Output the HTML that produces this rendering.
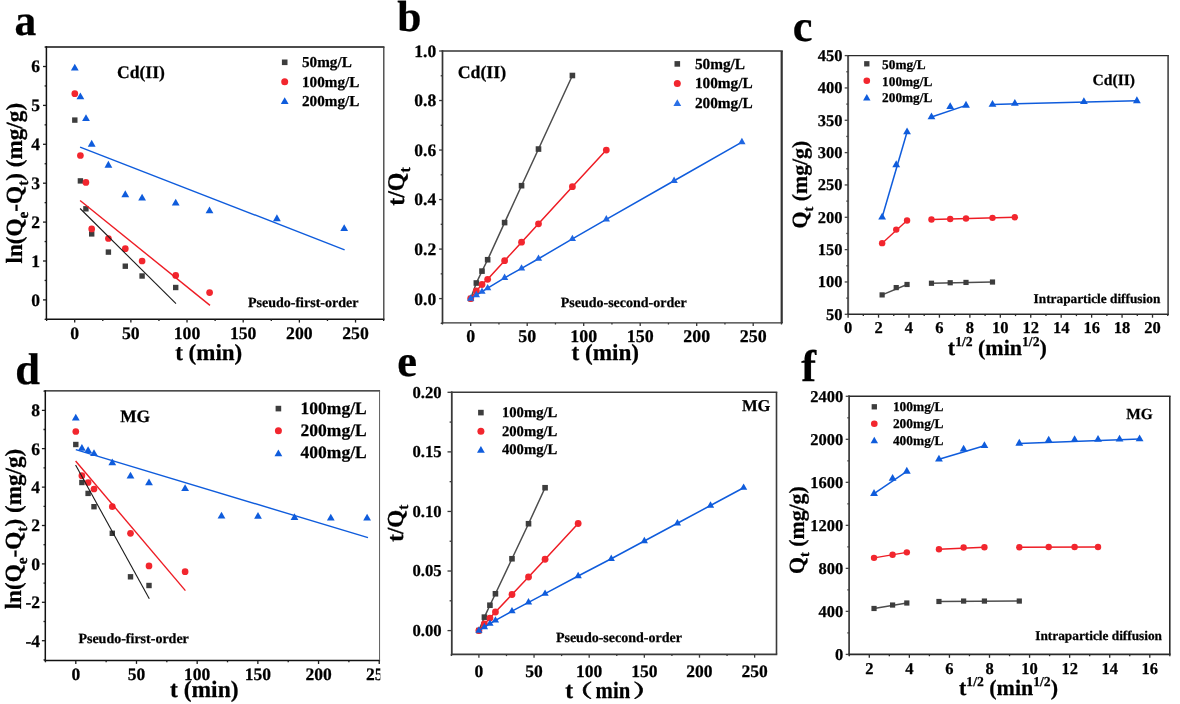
<!DOCTYPE html>
<html lang="en">
<head>
<meta charset="utf-8">
<title>Adsorption kinetics: Cd(II) and MG</title>
<style>
html,body{margin:0;padding:0;background:#fff;}
body{width:1180px;height:704px;overflow:hidden;font-family:"Liberation Serif","Noto Serif CJK SC",serif;}
svg{display:block;}
svg text{white-space:pre;}
</style>
</head>
<body>
<svg width="1180" height="704" viewBox="0 0 1180 704" text-rendering="geometricPrecision">
<rect x="0" y="0" width="1180" height="704" fill="#ffffff"/>
<g id="pa">
<rect x="72.1" y="117.4" width="5.4" height="5.4" fill="#3d3d3d"/>
<rect x="77.7" y="178.2" width="5.4" height="5.4" fill="#3d3d3d"/>
<rect x="83.2" y="206.1" width="5.4" height="5.4" fill="#3d3d3d"/>
<rect x="89" y="231.2" width="5.4" height="5.4" fill="#3d3d3d"/>
<rect x="105.7" y="249.4" width="5.4" height="5.4" fill="#3d3d3d"/>
<rect x="122.6" y="263.5" width="5.4" height="5.4" fill="#3d3d3d"/>
<rect x="139.4" y="273.3" width="5.4" height="5.4" fill="#3d3d3d"/>
<rect x="173" y="284.8" width="5.4" height="5.4" fill="#3d3d3d"/>
<circle cx="74.8" cy="93.7" r="3.35" fill="#f2262e"/>
<circle cx="80.4" cy="155.5" r="3.35" fill="#f2262e"/>
<circle cx="85.9" cy="182.4" r="3.35" fill="#f2262e"/>
<circle cx="91.7" cy="228.9" r="3.35" fill="#f2262e"/>
<circle cx="108.4" cy="238.5" r="3.35" fill="#f2262e"/>
<circle cx="125.3" cy="248.7" r="3.35" fill="#f2262e"/>
<circle cx="142.1" cy="261" r="3.35" fill="#f2262e"/>
<circle cx="175.7" cy="275.4" r="3.35" fill="#f2262e"/>
<circle cx="209.6" cy="292.6" r="3.35" fill="#f2262e"/>
<polygon points="74.8,63.67 78.7,70.47 70.9,70.47" fill="#0f5cdc"/>
<polygon points="80.4,92.47 84.3,99.27 76.5,99.27" fill="#0f5cdc"/>
<polygon points="86,114.27 89.9,121.07 82.1,121.07" fill="#0f5cdc"/>
<polygon points="91.7,139.87 95.6,146.67 87.8,146.67" fill="#0f5cdc"/>
<polygon points="108.4,160.87 112.3,167.67 104.5,167.67" fill="#0f5cdc"/>
<polygon points="125.3,190.37 129.2,197.17 121.4,197.17" fill="#0f5cdc"/>
<polygon points="142.1,193.77 146,200.57 138.2,200.57" fill="#0f5cdc"/>
<polygon points="175.7,198.67 179.6,205.47 171.8,205.47" fill="#0f5cdc"/>
<polygon points="209.5,206.47 213.4,213.27 205.6,213.27" fill="#0f5cdc"/>
<polygon points="276.9,214.37 280.8,221.17 273,221.17" fill="#0f5cdc"/>
<polygon points="344.2,224.17 348.1,230.97 340.3,230.97" fill="#0f5cdc"/>
<polyline points="80.1,208.5 176,303.7" fill="none" stroke="#1a1a1a" stroke-width="1.1" stroke-linecap="butt" stroke-linejoin="round"/>
<polyline points="80.1,200.5 210,305.4" fill="none" stroke="#ee1c24" stroke-width="1.4" stroke-linecap="butt" stroke-linejoin="round"/>
<polyline points="80.1,147.1 344.6,249.8" fill="none" stroke="#0f5cdc" stroke-width="1.4" stroke-linecap="butt" stroke-linejoin="round"/>
<line x1="46.4" y1="46.3" x2="46.4" y2="319.95" stroke="#111" stroke-width="1.5"/>
<line x1="45.65" y1="319.2" x2="384.45" y2="319.2" stroke="#111" stroke-width="1.5"/>
<line x1="45.65" y1="47" x2="384.45" y2="47" stroke="#111" stroke-width="1.4"/>
<line x1="383.8" y1="47" x2="383.8" y2="319.2" stroke="#3a3a3a" stroke-width="1.3"/>
<line x1="46.62" y1="319.2" x2="46.62" y2="321" stroke="#1c1c1c" stroke-width="1.3"/>
<line x1="102.78" y1="319.2" x2="102.78" y2="321" stroke="#1c1c1c" stroke-width="1.3"/>
<line x1="158.95" y1="319.2" x2="158.95" y2="321" stroke="#1c1c1c" stroke-width="1.3"/>
<line x1="215.12" y1="319.2" x2="215.12" y2="321" stroke="#1c1c1c" stroke-width="1.3"/>
<line x1="271.28" y1="319.2" x2="271.28" y2="321" stroke="#1c1c1c" stroke-width="1.3"/>
<line x1="327.45" y1="319.2" x2="327.45" y2="321" stroke="#1c1c1c" stroke-width="1.3"/>
<line x1="383.62" y1="319.2" x2="383.62" y2="321" stroke="#1c1c1c" stroke-width="1.3"/>
<line x1="74.7" y1="319.2" x2="74.7" y2="322.6" stroke="#1c1c1c" stroke-width="1.3"/>
<text x="74.7" y="339.3" font-size="17.7" text-anchor="middle" fill="#000" font-family="'Liberation Serif',serif" font-weight="bold" stroke="#000" stroke-width="0.25" stroke-linejoin="round" >0</text>
<line x1="130.87" y1="319.2" x2="130.87" y2="322.6" stroke="#1c1c1c" stroke-width="1.3"/>
<text x="130.87" y="339.3" font-size="17.7" text-anchor="middle" fill="#000" font-family="'Liberation Serif',serif" font-weight="bold" stroke="#000" stroke-width="0.25" stroke-linejoin="round" >50</text>
<line x1="187.03" y1="319.2" x2="187.03" y2="322.6" stroke="#1c1c1c" stroke-width="1.3"/>
<text x="187.03" y="339.3" font-size="17.7" text-anchor="middle" fill="#000" font-family="'Liberation Serif',serif" font-weight="bold" stroke="#000" stroke-width="0.25" stroke-linejoin="round" >100</text>
<line x1="243.2" y1="319.2" x2="243.2" y2="322.6" stroke="#1c1c1c" stroke-width="1.3"/>
<text x="243.2" y="339.3" font-size="17.7" text-anchor="middle" fill="#000" font-family="'Liberation Serif',serif" font-weight="bold" stroke="#000" stroke-width="0.25" stroke-linejoin="round" >150</text>
<line x1="299.37" y1="319.2" x2="299.37" y2="322.6" stroke="#1c1c1c" stroke-width="1.3"/>
<text x="299.37" y="339.3" font-size="17.7" text-anchor="middle" fill="#000" font-family="'Liberation Serif',serif" font-weight="bold" stroke="#000" stroke-width="0.25" stroke-linejoin="round" >200</text>
<line x1="355.53" y1="319.2" x2="355.53" y2="322.6" stroke="#1c1c1c" stroke-width="1.3"/>
<text x="355.53" y="339.3" font-size="17.7" text-anchor="middle" fill="#000" font-family="'Liberation Serif',serif" font-weight="bold" stroke="#000" stroke-width="0.25" stroke-linejoin="round" >250</text>
<line x1="44.6" y1="319.35" x2="46.4" y2="319.35" stroke="#1c1c1c" stroke-width="1.3"/>
<line x1="44.6" y1="280.45" x2="46.4" y2="280.45" stroke="#1c1c1c" stroke-width="1.3"/>
<line x1="44.6" y1="241.55" x2="46.4" y2="241.55" stroke="#1c1c1c" stroke-width="1.3"/>
<line x1="44.6" y1="202.65" x2="46.4" y2="202.65" stroke="#1c1c1c" stroke-width="1.3"/>
<line x1="44.6" y1="163.75" x2="46.4" y2="163.75" stroke="#1c1c1c" stroke-width="1.3"/>
<line x1="44.6" y1="124.85" x2="46.4" y2="124.85" stroke="#1c1c1c" stroke-width="1.3"/>
<line x1="44.6" y1="85.95" x2="46.4" y2="85.95" stroke="#1c1c1c" stroke-width="1.3"/>
<line x1="44.6" y1="47.05" x2="46.4" y2="47.05" stroke="#1c1c1c" stroke-width="1.3"/>
<line x1="43" y1="299.9" x2="46.4" y2="299.9" stroke="#1c1c1c" stroke-width="1.3"/>
<text x="40" y="305.8" font-size="17.5" text-anchor="end" fill="#000" font-family="'Liberation Serif',serif" font-weight="bold" stroke="#000" stroke-width="0.25" stroke-linejoin="round" >0</text>
<line x1="43" y1="261" x2="46.4" y2="261" stroke="#1c1c1c" stroke-width="1.3"/>
<text x="40" y="266.9" font-size="17.5" text-anchor="end" fill="#000" font-family="'Liberation Serif',serif" font-weight="bold" stroke="#000" stroke-width="0.25" stroke-linejoin="round" >1</text>
<line x1="43" y1="222.1" x2="46.4" y2="222.1" stroke="#1c1c1c" stroke-width="1.3"/>
<text x="40" y="228" font-size="17.5" text-anchor="end" fill="#000" font-family="'Liberation Serif',serif" font-weight="bold" stroke="#000" stroke-width="0.25" stroke-linejoin="round" >2</text>
<line x1="43" y1="183.2" x2="46.4" y2="183.2" stroke="#1c1c1c" stroke-width="1.3"/>
<text x="40" y="189.1" font-size="17.5" text-anchor="end" fill="#000" font-family="'Liberation Serif',serif" font-weight="bold" stroke="#000" stroke-width="0.25" stroke-linejoin="round" >3</text>
<line x1="43" y1="144.3" x2="46.4" y2="144.3" stroke="#1c1c1c" stroke-width="1.3"/>
<text x="40" y="150.2" font-size="17.5" text-anchor="end" fill="#000" font-family="'Liberation Serif',serif" font-weight="bold" stroke="#000" stroke-width="0.25" stroke-linejoin="round" >4</text>
<line x1="43" y1="105.4" x2="46.4" y2="105.4" stroke="#1c1c1c" stroke-width="1.3"/>
<text x="40" y="111.3" font-size="17.5" text-anchor="end" fill="#000" font-family="'Liberation Serif',serif" font-weight="bold" stroke="#000" stroke-width="0.25" stroke-linejoin="round" >5</text>
<line x1="43" y1="66.5" x2="46.4" y2="66.5" stroke="#1c1c1c" stroke-width="1.3"/>
<text x="40" y="72.4" font-size="17.5" text-anchor="end" fill="#000" font-family="'Liberation Serif',serif" font-weight="bold" stroke="#000" stroke-width="0.25" stroke-linejoin="round" >6</text>
<text x="117" y="78" font-size="17.6" text-anchor="start" fill="#000" font-family="'Liberation Serif',serif" font-weight="bold" stroke="#000" stroke-width="0.25" stroke-linejoin="round" >Cd(II)</text>
<text x="248" y="306.6" font-size="14" text-anchor="start" fill="#000" font-family="'Liberation Serif',serif" font-weight="bold" stroke="#000" stroke-width="0.25" stroke-linejoin="round" >Pseudo-first-order</text>
<rect x="281.9" y="59.5" width="5.6" height="5.6" fill="#3d3d3d"/>
<circle cx="284.7" cy="81.8" r="3.5" fill="#f2262e"/>
<polygon points="284.7,97.2 288.6,104 280.8,104" fill="#0f5cdc"/>
<text x="302" y="67.3" font-size="15.2" text-anchor="start" fill="#000" font-family="'Liberation Serif',serif" font-weight="bold" stroke="#000" stroke-width="0.25" stroke-linejoin="round" >50mg/L</text>
<text x="302" y="87" font-size="15.2" text-anchor="start" fill="#000" font-family="'Liberation Serif',serif" font-weight="bold" stroke="#000" stroke-width="0.25" stroke-linejoin="round" >100mg/L</text>
<text x="302" y="106" font-size="15.2" text-anchor="start" fill="#000" font-family="'Liberation Serif',serif" font-weight="bold" stroke="#000" stroke-width="0.25" stroke-linejoin="round" >200mg/L</text>
<text transform="translate(22.2 183.2) rotate(-90)" font-size="23.2" text-anchor="middle" fill="#000" font-family="'Liberation Serif',serif" font-weight="bold" stroke="#000" stroke-width="0.25" stroke-linejoin="round">ln(Q<tspan font-size="15.31" dy="5.8">e</tspan><tspan dy="-5.8">&#8203;</tspan>-Q<tspan font-size="15.31" dy="5.8">t</tspan><tspan dy="-5.8">&#8203;</tspan>) (mg/g)</text>
<text x="175.2" y="359.6" font-size="23" text-anchor="start" fill="#000" font-family="'Liberation Serif',serif" font-weight="bold" stroke="#000" stroke-width="0.25" stroke-linejoin="round" >t (min)</text>
<text x="14.4" y="35.2" font-size="43.5" text-anchor="start" fill="#000" font-family="'Liberation Serif',serif" font-weight="bold" stroke="#000" stroke-width="0.25" stroke-linejoin="round" >a</text>
</g>
<g id="pb">
<polyline points="470.7,298.6 476.35,283 482,271.12 487.65,259.73 504.6,222.59 521.55,185.69 538.5,149.05 572.4,75.51" fill="none" stroke="#4d4d4d" stroke-width="1.5" stroke-linecap="butt" stroke-linejoin="round"/>
<rect x="467.9" y="295.8" width="5.6" height="5.6" fill="#3d3d3d"/>
<rect x="473.55" y="280.2" width="5.6" height="5.6" fill="#3d3d3d"/>
<rect x="479.2" y="268.32" width="5.6" height="5.6" fill="#3d3d3d"/>
<rect x="484.85" y="256.93" width="5.6" height="5.6" fill="#3d3d3d"/>
<rect x="501.8" y="219.79" width="5.6" height="5.6" fill="#3d3d3d"/>
<rect x="518.75" y="182.89" width="5.6" height="5.6" fill="#3d3d3d"/>
<rect x="535.7" y="146.25" width="5.6" height="5.6" fill="#3d3d3d"/>
<rect x="569.6" y="72.71" width="5.6" height="5.6" fill="#3d3d3d"/>
<polyline points="470.7,298.6 476.35,290.92 482,284.49 487.65,279.29 504.6,260.72 521.55,242.15 538.5,223.82 572.4,186.68 606.3,150.04" fill="none" stroke="#ee1c24" stroke-width="1.5" stroke-linecap="butt" stroke-linejoin="round"/>
<circle cx="470.7" cy="298.6" r="3.4" fill="#f2262e"/>
<circle cx="476.35" cy="290.92" r="3.4" fill="#f2262e"/>
<circle cx="482" cy="284.49" r="3.4" fill="#f2262e"/>
<circle cx="487.65" cy="279.29" r="3.4" fill="#f2262e"/>
<circle cx="504.6" cy="260.72" r="3.4" fill="#f2262e"/>
<circle cx="521.55" cy="242.15" r="3.4" fill="#f2262e"/>
<circle cx="538.5" cy="223.82" r="3.4" fill="#f2262e"/>
<circle cx="572.4" cy="186.68" r="3.4" fill="#f2262e"/>
<circle cx="606.3" cy="150.04" r="3.4" fill="#f2262e"/>
<polyline points="470.7,298.6 476.35,295.13 482,291.67 487.65,288.2 504.6,277.8 521.55,268.39 538.5,258.74 572.4,238.93 606.3,219.37 674.1,180.74 741.9,142.12" fill="none" stroke="#0f5cdc" stroke-width="1.5" stroke-linecap="butt" stroke-linejoin="round"/>
<polygon points="470.7,294.33 474.35,300.73 467.05,300.73" fill="#1f66e2"/>
<polygon points="476.35,290.87 480,297.27 472.7,297.27" fill="#1f66e2"/>
<polygon points="482,287.4 485.65,293.8 478.35,293.8" fill="#1f66e2"/>
<polygon points="487.65,283.93 491.3,290.33 484,290.33" fill="#1f66e2"/>
<polygon points="504.6,273.53 508.25,279.93 500.95,279.93" fill="#1f66e2"/>
<polygon points="521.55,264.13 525.2,270.53 517.9,270.53" fill="#1f66e2"/>
<polygon points="538.5,254.47 542.15,260.87 534.85,260.87" fill="#1f66e2"/>
<polygon points="572.4,234.66 576.05,241.06 568.75,241.06" fill="#1f66e2"/>
<polygon points="606.3,215.1 609.95,221.5 602.65,221.5" fill="#1f66e2"/>
<polygon points="674.1,176.48 677.75,182.88 670.45,182.88" fill="#1f66e2"/>
<polygon points="741.9,137.85 745.55,144.25 738.25,144.25" fill="#1f66e2"/>
<line x1="442.5" y1="50.25" x2="442.5" y2="323.6" stroke="#333" stroke-width="1.7"/>
<line x1="441.65" y1="322.9" x2="782.8" y2="322.9" stroke="#333" stroke-width="1.4"/>
<line x1="441.65" y1="51" x2="782.8" y2="51" stroke="#333" stroke-width="1.5"/>
<line x1="781.7" y1="51" x2="781.7" y2="322.9" stroke="#333" stroke-width="2.2"/>
<line x1="442.45" y1="322.9" x2="442.45" y2="324.5" stroke="#333" stroke-width="1.3"/>
<line x1="498.95" y1="322.9" x2="498.95" y2="324.5" stroke="#333" stroke-width="1.3"/>
<line x1="555.45" y1="322.9" x2="555.45" y2="324.5" stroke="#333" stroke-width="1.3"/>
<line x1="611.95" y1="322.9" x2="611.95" y2="324.5" stroke="#333" stroke-width="1.3"/>
<line x1="668.45" y1="322.9" x2="668.45" y2="324.5" stroke="#333" stroke-width="1.3"/>
<line x1="724.95" y1="322.9" x2="724.95" y2="324.5" stroke="#333" stroke-width="1.3"/>
<line x1="781.45" y1="322.9" x2="781.45" y2="324.5" stroke="#333" stroke-width="1.3"/>
<line x1="470.7" y1="322.9" x2="470.7" y2="325.9" stroke="#333" stroke-width="1.3"/>
<text x="470.7" y="342.4" font-size="17.9" text-anchor="middle" fill="#000" font-family="'Liberation Serif',serif" font-weight="bold" stroke="#000" stroke-width="0.25" stroke-linejoin="round" >0</text>
<line x1="527.2" y1="322.9" x2="527.2" y2="325.9" stroke="#333" stroke-width="1.3"/>
<text x="527.2" y="342.4" font-size="17.9" text-anchor="middle" fill="#000" font-family="'Liberation Serif',serif" font-weight="bold" stroke="#000" stroke-width="0.25" stroke-linejoin="round" >50</text>
<line x1="583.7" y1="322.9" x2="583.7" y2="325.9" stroke="#333" stroke-width="1.3"/>
<text x="583.7" y="342.4" font-size="17.9" text-anchor="middle" fill="#000" font-family="'Liberation Serif',serif" font-weight="bold" stroke="#000" stroke-width="0.25" stroke-linejoin="round" >100</text>
<line x1="640.2" y1="322.9" x2="640.2" y2="325.9" stroke="#333" stroke-width="1.3"/>
<text x="640.2" y="342.4" font-size="17.9" text-anchor="middle" fill="#000" font-family="'Liberation Serif',serif" font-weight="bold" stroke="#000" stroke-width="0.25" stroke-linejoin="round" >150</text>
<line x1="696.7" y1="322.9" x2="696.7" y2="325.9" stroke="#333" stroke-width="1.3"/>
<text x="696.7" y="342.4" font-size="17.9" text-anchor="middle" fill="#000" font-family="'Liberation Serif',serif" font-weight="bold" stroke="#000" stroke-width="0.25" stroke-linejoin="round" >200</text>
<line x1="753.2" y1="322.9" x2="753.2" y2="325.9" stroke="#333" stroke-width="1.3"/>
<text x="753.2" y="342.4" font-size="17.9" text-anchor="middle" fill="#000" font-family="'Liberation Serif',serif" font-weight="bold" stroke="#000" stroke-width="0.25" stroke-linejoin="round" >250</text>
<line x1="440.7" y1="323.36" x2="442.5" y2="323.36" stroke="#3a3a3a" stroke-width="1.3"/>
<line x1="440.7" y1="273.84" x2="442.5" y2="273.84" stroke="#3a3a3a" stroke-width="1.3"/>
<line x1="440.7" y1="224.32" x2="442.5" y2="224.32" stroke="#3a3a3a" stroke-width="1.3"/>
<line x1="440.7" y1="174.8" x2="442.5" y2="174.8" stroke="#3a3a3a" stroke-width="1.3"/>
<line x1="440.7" y1="125.28" x2="442.5" y2="125.28" stroke="#3a3a3a" stroke-width="1.3"/>
<line x1="440.7" y1="75.76" x2="442.5" y2="75.76" stroke="#3a3a3a" stroke-width="1.3"/>
<line x1="439.1" y1="298.6" x2="442.5" y2="298.6" stroke="#3a3a3a" stroke-width="1.3"/>
<text x="436.2" y="304.5" font-size="17.5" text-anchor="end" fill="#000" font-family="'Liberation Serif',serif" font-weight="bold" stroke="#000" stroke-width="0.25" stroke-linejoin="round" >0.0</text>
<line x1="439.1" y1="249.08" x2="442.5" y2="249.08" stroke="#3a3a3a" stroke-width="1.3"/>
<text x="436.2" y="254.98" font-size="17.5" text-anchor="end" fill="#000" font-family="'Liberation Serif',serif" font-weight="bold" stroke="#000" stroke-width="0.25" stroke-linejoin="round" >0.2</text>
<line x1="439.1" y1="199.56" x2="442.5" y2="199.56" stroke="#3a3a3a" stroke-width="1.3"/>
<text x="436.2" y="205.46" font-size="17.5" text-anchor="end" fill="#000" font-family="'Liberation Serif',serif" font-weight="bold" stroke="#000" stroke-width="0.25" stroke-linejoin="round" >0.4</text>
<line x1="439.1" y1="150.04" x2="442.5" y2="150.04" stroke="#3a3a3a" stroke-width="1.3"/>
<text x="436.2" y="155.94" font-size="17.5" text-anchor="end" fill="#000" font-family="'Liberation Serif',serif" font-weight="bold" stroke="#000" stroke-width="0.25" stroke-linejoin="round" >0.6</text>
<line x1="439.1" y1="100.52" x2="442.5" y2="100.52" stroke="#3a3a3a" stroke-width="1.3"/>
<text x="436.2" y="106.42" font-size="17.5" text-anchor="end" fill="#000" font-family="'Liberation Serif',serif" font-weight="bold" stroke="#000" stroke-width="0.25" stroke-linejoin="round" >0.8</text>
<line x1="439.1" y1="51" x2="442.5" y2="51" stroke="#3a3a3a" stroke-width="1.3"/>
<text x="436.2" y="56.9" font-size="17.5" text-anchor="end" fill="#000" font-family="'Liberation Serif',serif" font-weight="bold" stroke="#000" stroke-width="0.25" stroke-linejoin="round" >1.0</text>
<text x="457.7" y="77.6" font-size="17.8" text-anchor="start" fill="#000" font-family="'Liberation Serif',serif" font-weight="bold" stroke="#000" stroke-width="0.25" stroke-linejoin="round" >Cd(II)</text>
<text x="560.7" y="306.6" font-size="14" text-anchor="start" fill="#000" font-family="'Liberation Serif',serif" font-weight="bold" stroke="#000" stroke-width="0.25" stroke-linejoin="round" >Pseudo-second-order</text>
<rect x="674.5" y="61.1" width="5.6" height="5.6" fill="#3d3d3d"/>
<circle cx="677.3" cy="83.5" r="3.5" fill="#f2262e"/>
<polygon points="677.3,99.3 681.2,106.1 673.4,106.1" fill="#2a6fe6"/>
<text x="694.9" y="69" font-size="15.3" text-anchor="start" fill="#000" font-family="'Liberation Serif',serif" font-weight="bold" stroke="#000" stroke-width="0.25" stroke-linejoin="round" >50mg/L</text>
<text x="694.9" y="88.3" font-size="15.3" text-anchor="start" fill="#000" font-family="'Liberation Serif',serif" font-weight="bold" stroke="#000" stroke-width="0.25" stroke-linejoin="round" >100mg/L</text>
<text x="694.9" y="107.9" font-size="15.3" text-anchor="start" fill="#000" font-family="'Liberation Serif',serif" font-weight="bold" stroke="#000" stroke-width="0.25" stroke-linejoin="round" >200mg/L</text>
<text transform="translate(403.9 186.5) rotate(-90)" font-size="24" text-anchor="middle" fill="#000" font-family="'Liberation Serif',serif" font-weight="bold" stroke="#000" stroke-width="0.25" stroke-linejoin="round">t/Q<tspan font-size="15.84" dy="6">t</tspan><tspan dy="-6">&#8203;</tspan></text>
<text x="571.4" y="359.7" font-size="23.2" text-anchor="start" fill="#000" font-family="'Liberation Serif',serif" font-weight="bold" stroke="#000" stroke-width="0.25" stroke-linejoin="round" >t (min)</text>
<text x="397.2" y="31.2" font-size="43.5" text-anchor="start" fill="#000" font-family="'Liberation Serif',serif" font-weight="bold" stroke="#000" stroke-width="0.25" stroke-linejoin="round" >b</text>
</g>
<g id="pc">
<polyline points="882.13,294.9 907.05,284.48" fill="none" stroke="#4d4d4d" stroke-width="1.4" stroke-linecap="butt" stroke-linejoin="round"/>
<polyline points="931.47,283.26 992.5,282.03" fill="none" stroke="#4d4d4d" stroke-width="1.4" stroke-linecap="butt" stroke-linejoin="round"/>
<rect x="879.53" y="292.3" width="5.2" height="5.2" fill="#3d3d3d"/>
<rect x="893.63" y="284.99" width="5.2" height="5.2" fill="#3d3d3d"/>
<rect x="904.45" y="281.88" width="5.2" height="5.2" fill="#3d3d3d"/>
<rect x="928.87" y="280.66" width="5.2" height="5.2" fill="#3d3d3d"/>
<rect x="947.6" y="280.14" width="5.2" height="5.2" fill="#3d3d3d"/>
<rect x="963.4" y="279.82" width="5.2" height="5.2" fill="#3d3d3d"/>
<rect x="989.9" y="279.43" width="5.2" height="5.2" fill="#3d3d3d"/>
<polyline points="882.13,243.16 907.05,220.52" fill="none" stroke="#ee1c24" stroke-width="1.4" stroke-linecap="butt" stroke-linejoin="round"/>
<polyline points="931.47,219.55 1014.84,217.29" fill="none" stroke="#ee1c24" stroke-width="1.4" stroke-linecap="butt" stroke-linejoin="round"/>
<circle cx="882.13" cy="243.16" r="3.2" fill="#f2262e"/>
<circle cx="896.23" cy="229.58" r="3.2" fill="#f2262e"/>
<circle cx="907.05" cy="220.52" r="3.2" fill="#f2262e"/>
<circle cx="931.47" cy="219.55" r="3.2" fill="#f2262e"/>
<circle cx="950.2" cy="219.03" r="3.2" fill="#f2262e"/>
<circle cx="966" cy="218.45" r="3.2" fill="#f2262e"/>
<circle cx="992.5" cy="217.87" r="3.2" fill="#f2262e"/>
<circle cx="1014.84" cy="217.29" r="3.2" fill="#f2262e"/>
<polyline points="882.13,217.29 907.05,131.92" fill="none" stroke="#0f5cdc" stroke-width="1.5" stroke-linecap="butt" stroke-linejoin="round"/>
<polyline points="931.47,117.04 966,105.4" fill="none" stroke="#0f5cdc" stroke-width="1.5" stroke-linecap="butt" stroke-linejoin="round"/>
<polyline points="992.5,104.43 1136.89,100.87" fill="none" stroke="#0f5cdc" stroke-width="1.5" stroke-linecap="butt" stroke-linejoin="round"/>
<polygon points="882.13,212.75 886.03,219.55 878.23,219.55" fill="#0f5cdc"/>
<polygon points="896.23,160.37 900.13,167.17 892.33,167.17" fill="#0f5cdc"/>
<polygon points="907.05,127.38 910.95,134.18 903.15,134.18" fill="#0f5cdc"/>
<polygon points="931.47,112.51 935.37,119.31 927.57,119.31" fill="#0f5cdc"/>
<polygon points="950.2,102.16 954.1,108.96 946.3,108.96" fill="#0f5cdc"/>
<polygon points="966,100.87 969.9,107.67 962.1,107.67" fill="#0f5cdc"/>
<polygon points="992.5,99.9 996.4,106.7 988.6,106.7" fill="#0f5cdc"/>
<polygon points="1014.84,98.93 1018.74,105.73 1010.94,105.73" fill="#0f5cdc"/>
<polygon points="1083.9,97.31 1087.8,104.11 1080,104.11" fill="#0f5cdc"/>
<polygon points="1136.89,96.34 1140.79,103.14 1132.99,103.14" fill="#0f5cdc"/>
<line x1="848.1" y1="54.9" x2="848.1" y2="315.1" stroke="#555" stroke-width="2.0"/>
<line x1="847.1" y1="314.3" x2="1168.9" y2="314.3" stroke="#2a2a2a" stroke-width="1.6"/>
<line x1="847.1" y1="55.6" x2="1168.9" y2="55.6" stroke="#2a2a2a" stroke-width="1.4"/>
<line x1="1168.1" y1="55.6" x2="1168.1" y2="314.3" stroke="#444" stroke-width="1.6"/>
<line x1="863.32" y1="314.3" x2="863.32" y2="316.1" stroke="#2a2a2a" stroke-width="1.3"/>
<line x1="893.76" y1="314.3" x2="893.76" y2="316.1" stroke="#2a2a2a" stroke-width="1.3"/>
<line x1="924.2" y1="314.3" x2="924.2" y2="316.1" stroke="#2a2a2a" stroke-width="1.3"/>
<line x1="954.65" y1="314.3" x2="954.65" y2="316.1" stroke="#2a2a2a" stroke-width="1.3"/>
<line x1="985.09" y1="314.3" x2="985.09" y2="316.1" stroke="#2a2a2a" stroke-width="1.3"/>
<line x1="1015.53" y1="314.3" x2="1015.53" y2="316.1" stroke="#2a2a2a" stroke-width="1.3"/>
<line x1="1045.97" y1="314.3" x2="1045.97" y2="316.1" stroke="#2a2a2a" stroke-width="1.3"/>
<line x1="1076.41" y1="314.3" x2="1076.41" y2="316.1" stroke="#2a2a2a" stroke-width="1.3"/>
<line x1="1106.85" y1="314.3" x2="1106.85" y2="316.1" stroke="#2a2a2a" stroke-width="1.3"/>
<line x1="1137.3" y1="314.3" x2="1137.3" y2="316.1" stroke="#2a2a2a" stroke-width="1.3"/>
<line x1="1167.74" y1="314.3" x2="1167.74" y2="316.1" stroke="#2a2a2a" stroke-width="1.3"/>
<line x1="848.1" y1="314.3" x2="848.1" y2="317.7" stroke="#2a2a2a" stroke-width="1.3"/>
<text x="848.1" y="332.7" font-size="16.5" text-anchor="middle" fill="#000" font-family="'Liberation Serif',serif" font-weight="bold" stroke="#000" stroke-width="0.25" stroke-linejoin="round" >0</text>
<line x1="878.54" y1="314.3" x2="878.54" y2="317.7" stroke="#2a2a2a" stroke-width="1.3"/>
<text x="878.54" y="332.7" font-size="16.5" text-anchor="middle" fill="#000" font-family="'Liberation Serif',serif" font-weight="bold" stroke="#000" stroke-width="0.25" stroke-linejoin="round" >2</text>
<line x1="908.98" y1="314.3" x2="908.98" y2="317.7" stroke="#2a2a2a" stroke-width="1.3"/>
<text x="908.98" y="332.7" font-size="16.5" text-anchor="middle" fill="#000" font-family="'Liberation Serif',serif" font-weight="bold" stroke="#000" stroke-width="0.25" stroke-linejoin="round" >4</text>
<line x1="939.42" y1="314.3" x2="939.42" y2="317.7" stroke="#2a2a2a" stroke-width="1.3"/>
<text x="939.42" y="332.7" font-size="16.5" text-anchor="middle" fill="#000" font-family="'Liberation Serif',serif" font-weight="bold" stroke="#000" stroke-width="0.25" stroke-linejoin="round" >6</text>
<line x1="969.87" y1="314.3" x2="969.87" y2="317.7" stroke="#2a2a2a" stroke-width="1.3"/>
<text x="969.87" y="332.7" font-size="16.5" text-anchor="middle" fill="#000" font-family="'Liberation Serif',serif" font-weight="bold" stroke="#000" stroke-width="0.25" stroke-linejoin="round" >8</text>
<line x1="1000.31" y1="314.3" x2="1000.31" y2="317.7" stroke="#2a2a2a" stroke-width="1.3"/>
<text x="1000.31" y="332.7" font-size="16.5" text-anchor="middle" fill="#000" font-family="'Liberation Serif',serif" font-weight="bold" stroke="#000" stroke-width="0.25" stroke-linejoin="round" >10</text>
<line x1="1030.75" y1="314.3" x2="1030.75" y2="317.7" stroke="#2a2a2a" stroke-width="1.3"/>
<text x="1030.75" y="332.7" font-size="16.5" text-anchor="middle" fill="#000" font-family="'Liberation Serif',serif" font-weight="bold" stroke="#000" stroke-width="0.25" stroke-linejoin="round" >12</text>
<line x1="1061.19" y1="314.3" x2="1061.19" y2="317.7" stroke="#2a2a2a" stroke-width="1.3"/>
<text x="1061.19" y="332.7" font-size="16.5" text-anchor="middle" fill="#000" font-family="'Liberation Serif',serif" font-weight="bold" stroke="#000" stroke-width="0.25" stroke-linejoin="round" >14</text>
<line x1="1091.63" y1="314.3" x2="1091.63" y2="317.7" stroke="#2a2a2a" stroke-width="1.3"/>
<text x="1091.63" y="332.7" font-size="16.5" text-anchor="middle" fill="#000" font-family="'Liberation Serif',serif" font-weight="bold" stroke="#000" stroke-width="0.25" stroke-linejoin="round" >16</text>
<line x1="1122.07" y1="314.3" x2="1122.07" y2="317.7" stroke="#2a2a2a" stroke-width="1.3"/>
<text x="1122.07" y="332.7" font-size="16.5" text-anchor="middle" fill="#000" font-family="'Liberation Serif',serif" font-weight="bold" stroke="#000" stroke-width="0.25" stroke-linejoin="round" >18</text>
<line x1="1152.52" y1="314.3" x2="1152.52" y2="317.7" stroke="#2a2a2a" stroke-width="1.3"/>
<text x="1152.52" y="332.7" font-size="16.5" text-anchor="middle" fill="#000" font-family="'Liberation Serif',serif" font-weight="bold" stroke="#000" stroke-width="0.25" stroke-linejoin="round" >20</text>
<line x1="846.3" y1="298.13" x2="848.1" y2="298.13" stroke="#444" stroke-width="1.3"/>
<line x1="846.3" y1="265.79" x2="848.1" y2="265.79" stroke="#444" stroke-width="1.3"/>
<line x1="846.3" y1="233.46" x2="848.1" y2="233.46" stroke="#444" stroke-width="1.3"/>
<line x1="846.3" y1="201.12" x2="848.1" y2="201.12" stroke="#444" stroke-width="1.3"/>
<line x1="846.3" y1="168.78" x2="848.1" y2="168.78" stroke="#444" stroke-width="1.3"/>
<line x1="846.3" y1="136.44" x2="848.1" y2="136.44" stroke="#444" stroke-width="1.3"/>
<line x1="846.3" y1="104.11" x2="848.1" y2="104.11" stroke="#444" stroke-width="1.3"/>
<line x1="846.3" y1="71.77" x2="848.1" y2="71.77" stroke="#444" stroke-width="1.3"/>
<line x1="844.7" y1="314.3" x2="848.1" y2="314.3" stroke="#444" stroke-width="1.3"/>
<text x="842.5" y="319.8" font-size="16.5" text-anchor="end" fill="#000" font-family="'Liberation Serif',serif" font-weight="bold" stroke="#000" stroke-width="0.25" stroke-linejoin="round" >50</text>
<line x1="844.7" y1="281.96" x2="848.1" y2="281.96" stroke="#444" stroke-width="1.3"/>
<text x="842.5" y="287.46" font-size="16.5" text-anchor="end" fill="#000" font-family="'Liberation Serif',serif" font-weight="bold" stroke="#000" stroke-width="0.25" stroke-linejoin="round" >100</text>
<line x1="844.7" y1="249.62" x2="848.1" y2="249.62" stroke="#444" stroke-width="1.3"/>
<text x="842.5" y="255.12" font-size="16.5" text-anchor="end" fill="#000" font-family="'Liberation Serif',serif" font-weight="bold" stroke="#000" stroke-width="0.25" stroke-linejoin="round" >150</text>
<line x1="844.7" y1="217.29" x2="848.1" y2="217.29" stroke="#444" stroke-width="1.3"/>
<text x="842.5" y="222.79" font-size="16.5" text-anchor="end" fill="#000" font-family="'Liberation Serif',serif" font-weight="bold" stroke="#000" stroke-width="0.25" stroke-linejoin="round" >200</text>
<line x1="844.7" y1="184.95" x2="848.1" y2="184.95" stroke="#444" stroke-width="1.3"/>
<text x="842.5" y="190.45" font-size="16.5" text-anchor="end" fill="#000" font-family="'Liberation Serif',serif" font-weight="bold" stroke="#000" stroke-width="0.25" stroke-linejoin="round" >250</text>
<line x1="844.7" y1="152.61" x2="848.1" y2="152.61" stroke="#444" stroke-width="1.3"/>
<text x="842.5" y="158.11" font-size="16.5" text-anchor="end" fill="#000" font-family="'Liberation Serif',serif" font-weight="bold" stroke="#000" stroke-width="0.25" stroke-linejoin="round" >300</text>
<line x1="844.7" y1="120.28" x2="848.1" y2="120.28" stroke="#444" stroke-width="1.3"/>
<text x="842.5" y="125.78" font-size="16.5" text-anchor="end" fill="#000" font-family="'Liberation Serif',serif" font-weight="bold" stroke="#000" stroke-width="0.25" stroke-linejoin="round" >350</text>
<line x1="844.7" y1="87.94" x2="848.1" y2="87.94" stroke="#444" stroke-width="1.3"/>
<text x="842.5" y="93.44" font-size="16.5" text-anchor="end" fill="#000" font-family="'Liberation Serif',serif" font-weight="bold" stroke="#000" stroke-width="0.25" stroke-linejoin="round" >400</text>
<line x1="844.7" y1="55.6" x2="848.1" y2="55.6" stroke="#444" stroke-width="1.3"/>
<text x="842.5" y="61.1" font-size="16.5" text-anchor="end" fill="#000" font-family="'Liberation Serif',serif" font-weight="bold" stroke="#000" stroke-width="0.25" stroke-linejoin="round" >450</text>
<text x="1092.5" y="85.2" font-size="15.6" text-anchor="start" fill="#000" font-family="'Liberation Serif',serif" font-weight="bold" stroke="#000" stroke-width="0.25" stroke-linejoin="round" >Cd(II)</text>
<text x="1033.6" y="302.9" font-size="13.3" text-anchor="start" fill="#000" font-family="'Liberation Serif',serif" font-weight="bold" stroke="#000" stroke-width="0.25" stroke-linejoin="round" >Intraparticle diffusion</text>
<rect x="864.14" y="61.14" width="5.32" height="5.32" fill="#3d3d3d"/>
<circle cx="866.8" cy="80.8" r="3.32" fill="#f2262e"/>
<polygon points="866.8,93.97 870.5,100.43 863.09,100.43" fill="#0f5cdc"/>
<text x="882.1" y="68.5" font-size="13.3" text-anchor="start" fill="#000" font-family="'Liberation Serif',serif" font-weight="bold" stroke="#000" stroke-width="0.25" stroke-linejoin="round" >50mg/L</text>
<text x="882.1" y="85.6" font-size="13.3" text-anchor="start" fill="#000" font-family="'Liberation Serif',serif" font-weight="bold" stroke="#000" stroke-width="0.25" stroke-linejoin="round" >100mg/L</text>
<text x="882.1" y="102.3" font-size="13.3" text-anchor="start" fill="#000" font-family="'Liberation Serif',serif" font-weight="bold" stroke="#000" stroke-width="0.25" stroke-linejoin="round" >200mg/L</text>
<text transform="translate(807.3 184.6) rotate(-90)" font-size="21.8" text-anchor="middle" fill="#000" font-family="'Liberation Serif',serif" font-weight="bold" stroke="#000" stroke-width="0.25" stroke-linejoin="round">Q<tspan font-size="14.39" dy="5.45">t</tspan><tspan dy="-5.45">&#8203;</tspan> (mg/g)</text>
<text x="947.8" y="354.7" font-size="22" text-anchor="start" fill="#000" font-family="'Liberation Serif',serif" font-weight="bold" stroke="#000" stroke-width="0.25" stroke-linejoin="round" >t<tspan font-size="13.64" dy="-9.02">1/2</tspan><tspan dy="9.02">&#8203;</tspan> (min<tspan font-size="13.64" dy="-9.02">1/2</tspan><tspan dy="9.02">&#8203;</tspan>)</text>
<text x="792.8" y="41.4" font-size="44.5" text-anchor="start" fill="#000" font-family="'Liberation Serif',serif" font-weight="bold" stroke="#000" stroke-width="0.25" stroke-linejoin="round" >c</text>
</g>
<g id="pd">
<clipPath id="cd"><rect x="0" y="340" width="380.3" height="364"/></clipPath>
<g clip-path="url(#cd)">
<rect x="73.1" y="441.8" width="5.4" height="5.4" fill="#3d3d3d"/>
<rect x="79.2" y="479.8" width="5.4" height="5.4" fill="#3d3d3d"/>
<rect x="85.4" y="490.7" width="5.4" height="5.4" fill="#3d3d3d"/>
<rect x="91.3" y="504" width="5.4" height="5.4" fill="#3d3d3d"/>
<rect x="109.6" y="530.6" width="5.4" height="5.4" fill="#3d3d3d"/>
<rect x="127.8" y="574.1" width="5.4" height="5.4" fill="#3d3d3d"/>
<rect x="146.3" y="582.8" width="5.4" height="5.4" fill="#3d3d3d"/>
<circle cx="75.8" cy="431.5" r="3.35" fill="#f2262e"/>
<circle cx="81.9" cy="475.7" r="3.35" fill="#f2262e"/>
<circle cx="88.1" cy="482.5" r="3.35" fill="#f2262e"/>
<circle cx="94" cy="489" r="3.35" fill="#f2262e"/>
<circle cx="112.3" cy="506.7" r="3.35" fill="#f2262e"/>
<circle cx="130.5" cy="533.3" r="3.35" fill="#f2262e"/>
<circle cx="149" cy="565.9" r="3.35" fill="#f2262e"/>
<circle cx="185.1" cy="571.7" r="3.35" fill="#f2262e"/>
<polygon points="75.8,413.77 79.7,420.57 71.9,420.57" fill="#0f5cdc"/>
<polygon points="81.9,444.07 85.8,450.87 78,450.87" fill="#0f5cdc"/>
<polygon points="88.1,446.17 92,452.97 84.2,452.97" fill="#0f5cdc"/>
<polygon points="94,449.17 97.9,455.97 90.1,455.97" fill="#0f5cdc"/>
<polygon points="112.3,458.57 116.2,465.37 108.4,465.37" fill="#0f5cdc"/>
<polygon points="130.5,471.67 134.4,478.47 126.6,478.47" fill="#0f5cdc"/>
<polygon points="149,478.47 152.9,485.27 145.1,485.27" fill="#0f5cdc"/>
<polygon points="185.1,484.17 189,490.97 181.2,490.97" fill="#0f5cdc"/>
<polygon points="221.5,511.77 225.4,518.57 217.6,518.57" fill="#0f5cdc"/>
<polygon points="258,512.07 261.9,518.87 254.1,518.87" fill="#0f5cdc"/>
<polygon points="294.5,513.27 298.4,520.07 290.6,520.07" fill="#0f5cdc"/>
<polygon points="330.8,513.67 334.7,520.47 326.9,520.47" fill="#0f5cdc"/>
<polygon points="367.1,513.77 371,520.57 363.2,520.57" fill="#0f5cdc"/>
<polyline points="75.6,465 149.3,598.8" fill="none" stroke="#1a1a1a" stroke-width="1.1" stroke-linecap="butt" stroke-linejoin="round"/>
<polyline points="75.6,461 185.4,590.6" fill="none" stroke="#ee1c24" stroke-width="1.4" stroke-linecap="butt" stroke-linejoin="round"/>
<polyline points="75.8,449.6 368,537.7" fill="none" stroke="#0f5cdc" stroke-width="1.4" stroke-linecap="butt" stroke-linejoin="round"/>
<line x1="45.3" y1="390.2" x2="45.3" y2="661.25" stroke="#111" stroke-width="1.5"/>
<line x1="44.55" y1="660.5" x2="380.2" y2="660.5" stroke="#111" stroke-width="1.5"/>
<line x1="44.55" y1="390.9" x2="380.2" y2="390.9" stroke="#111" stroke-width="1.4"/>
<line x1="379.6" y1="390.9" x2="379.6" y2="660.5" stroke="#666" stroke-width="1.2"/>
<line x1="45.46" y1="660.5" x2="45.46" y2="662.3" stroke="#1c1c1c" stroke-width="1.3"/>
<line x1="106.14" y1="660.5" x2="106.14" y2="662.3" stroke="#1c1c1c" stroke-width="1.3"/>
<line x1="166.83" y1="660.5" x2="166.83" y2="662.3" stroke="#1c1c1c" stroke-width="1.3"/>
<line x1="227.52" y1="660.5" x2="227.52" y2="662.3" stroke="#1c1c1c" stroke-width="1.3"/>
<line x1="288.21" y1="660.5" x2="288.21" y2="662.3" stroke="#1c1c1c" stroke-width="1.3"/>
<line x1="348.89" y1="660.5" x2="348.89" y2="662.3" stroke="#1c1c1c" stroke-width="1.3"/>
<line x1="75.8" y1="660.5" x2="75.8" y2="663.9" stroke="#1c1c1c" stroke-width="1.3"/>
<text x="75.8" y="679.5" font-size="17.5" text-anchor="middle" fill="#000" font-family="'Liberation Serif',serif" font-weight="bold" stroke="#000" stroke-width="0.25" stroke-linejoin="round" >0</text>
<line x1="136.49" y1="660.5" x2="136.49" y2="663.9" stroke="#1c1c1c" stroke-width="1.3"/>
<text x="136.49" y="679.5" font-size="17.5" text-anchor="middle" fill="#000" font-family="'Liberation Serif',serif" font-weight="bold" stroke="#000" stroke-width="0.25" stroke-linejoin="round" >50</text>
<line x1="197.18" y1="660.5" x2="197.18" y2="663.9" stroke="#1c1c1c" stroke-width="1.3"/>
<text x="197.18" y="679.5" font-size="17.5" text-anchor="middle" fill="#000" font-family="'Liberation Serif',serif" font-weight="bold" stroke="#000" stroke-width="0.25" stroke-linejoin="round" >100</text>
<line x1="257.86" y1="660.5" x2="257.86" y2="663.9" stroke="#1c1c1c" stroke-width="1.3"/>
<text x="257.86" y="679.5" font-size="17.5" text-anchor="middle" fill="#000" font-family="'Liberation Serif',serif" font-weight="bold" stroke="#000" stroke-width="0.25" stroke-linejoin="round" >150</text>
<line x1="318.55" y1="660.5" x2="318.55" y2="663.9" stroke="#1c1c1c" stroke-width="1.3"/>
<text x="318.55" y="679.5" font-size="17.5" text-anchor="middle" fill="#000" font-family="'Liberation Serif',serif" font-weight="bold" stroke="#000" stroke-width="0.25" stroke-linejoin="round" >200</text>
<line x1="379.24" y1="660.5" x2="379.24" y2="663.9" stroke="#1c1c1c" stroke-width="1.3"/>
<text x="379.24" y="679.5" font-size="17.5" text-anchor="middle" fill="#000" font-family="'Liberation Serif',serif" font-weight="bold" stroke="#000" stroke-width="0.25" stroke-linejoin="round" >250</text>
<line x1="43.5" y1="659.9" x2="45.3" y2="659.9" stroke="#1c1c1c" stroke-width="1.3"/>
<line x1="43.5" y1="621.5" x2="45.3" y2="621.5" stroke="#1c1c1c" stroke-width="1.3"/>
<line x1="43.5" y1="583.1" x2="45.3" y2="583.1" stroke="#1c1c1c" stroke-width="1.3"/>
<line x1="43.5" y1="544.7" x2="45.3" y2="544.7" stroke="#1c1c1c" stroke-width="1.3"/>
<line x1="43.5" y1="506.3" x2="45.3" y2="506.3" stroke="#1c1c1c" stroke-width="1.3"/>
<line x1="43.5" y1="467.9" x2="45.3" y2="467.9" stroke="#1c1c1c" stroke-width="1.3"/>
<line x1="43.5" y1="429.5" x2="45.3" y2="429.5" stroke="#1c1c1c" stroke-width="1.3"/>
<line x1="43.5" y1="391.1" x2="45.3" y2="391.1" stroke="#1c1c1c" stroke-width="1.3"/>
<line x1="41.9" y1="640.7" x2="45.3" y2="640.7" stroke="#1c1c1c" stroke-width="1.3"/>
<text x="40" y="646.6" font-size="17.5" text-anchor="end" fill="#000" font-family="'Liberation Serif',serif" font-weight="bold" stroke="#000" stroke-width="0.25" stroke-linejoin="round" >-4</text>
<line x1="41.9" y1="602.3" x2="45.3" y2="602.3" stroke="#1c1c1c" stroke-width="1.3"/>
<text x="40" y="608.2" font-size="17.5" text-anchor="end" fill="#000" font-family="'Liberation Serif',serif" font-weight="bold" stroke="#000" stroke-width="0.25" stroke-linejoin="round" >-2</text>
<line x1="41.9" y1="563.9" x2="45.3" y2="563.9" stroke="#1c1c1c" stroke-width="1.3"/>
<text x="40" y="569.8" font-size="17.5" text-anchor="end" fill="#000" font-family="'Liberation Serif',serif" font-weight="bold" stroke="#000" stroke-width="0.25" stroke-linejoin="round" >0</text>
<line x1="41.9" y1="525.5" x2="45.3" y2="525.5" stroke="#1c1c1c" stroke-width="1.3"/>
<text x="40" y="531.4" font-size="17.5" text-anchor="end" fill="#000" font-family="'Liberation Serif',serif" font-weight="bold" stroke="#000" stroke-width="0.25" stroke-linejoin="round" >2</text>
<line x1="41.9" y1="487.1" x2="45.3" y2="487.1" stroke="#1c1c1c" stroke-width="1.3"/>
<text x="40" y="493" font-size="17.5" text-anchor="end" fill="#000" font-family="'Liberation Serif',serif" font-weight="bold" stroke="#000" stroke-width="0.25" stroke-linejoin="round" >4</text>
<line x1="41.9" y1="448.7" x2="45.3" y2="448.7" stroke="#1c1c1c" stroke-width="1.3"/>
<text x="40" y="454.6" font-size="17.5" text-anchor="end" fill="#000" font-family="'Liberation Serif',serif" font-weight="bold" stroke="#000" stroke-width="0.25" stroke-linejoin="round" >6</text>
<line x1="41.9" y1="410.3" x2="45.3" y2="410.3" stroke="#1c1c1c" stroke-width="1.3"/>
<text x="40" y="416.2" font-size="17.5" text-anchor="end" fill="#000" font-family="'Liberation Serif',serif" font-weight="bold" stroke="#000" stroke-width="0.25" stroke-linejoin="round" >8</text>
<text x="120.2" y="421.5" font-size="17.4" text-anchor="start" fill="#000" font-family="'Liberation Serif',serif" font-weight="bold" stroke="#000" stroke-width="0.25" stroke-linejoin="round" >MG</text>
<text x="78.4" y="642.8" font-size="14" text-anchor="start" fill="#000" font-family="'Liberation Serif',serif" font-weight="bold" stroke="#000" stroke-width="0.25" stroke-linejoin="round" >Pseudo-first-order</text>
<rect x="275.6" y="405.8" width="5.6" height="5.6" fill="#3d3d3d"/>
<circle cx="278.4" cy="430.8" r="3.5" fill="#f2262e"/>
<polygon points="278.4,449.5 282.3,456.3 274.5,456.3" fill="#0f5cdc"/>
<text x="300.6" y="413.7" font-size="17.5" text-anchor="start" fill="#000" font-family="'Liberation Serif',serif" font-weight="bold" stroke="#000" stroke-width="0.25" stroke-linejoin="round" >100mg/L</text>
<text x="300.6" y="435.9" font-size="17.5" text-anchor="start" fill="#000" font-family="'Liberation Serif',serif" font-weight="bold" stroke="#000" stroke-width="0.25" stroke-linejoin="round" >200mg/L</text>
<text x="300.6" y="458.4" font-size="17.5" text-anchor="start" fill="#000" font-family="'Liberation Serif',serif" font-weight="bold" stroke="#000" stroke-width="0.25" stroke-linejoin="round" >400mg/L</text>
<text transform="translate(20.8 529) rotate(-90)" font-size="23.2" text-anchor="middle" fill="#000" font-family="'Liberation Serif',serif" font-weight="bold" stroke="#000" stroke-width="0.25" stroke-linejoin="round">ln(Q<tspan font-size="15.31" dy="5.8">e</tspan><tspan dy="-5.8">&#8203;</tspan>-Q<tspan font-size="15.31" dy="5.8">t</tspan><tspan dy="-5.8">&#8203;</tspan>) (mg/g)</text>
<text x="170" y="697" font-size="23.5" text-anchor="start" fill="#000" font-family="'Liberation Serif',serif" font-weight="bold" stroke="#000" stroke-width="0.25" stroke-linejoin="round" >t (min)</text>
<text x="15.3" y="383.5" font-size="44.5" text-anchor="start" fill="#000" font-family="'Liberation Serif',serif" font-weight="bold" stroke="#000" stroke-width="0.25" stroke-linejoin="round" >d</text>
</g>
</g>
<g id="pe">
<polyline points="478.9,630.6 484.41,617.14 489.93,605.22 495.44,593.78 511.99,558.75 528.53,523.72 545.08,487.74" fill="none" stroke="#4d4d4d" stroke-width="1.5" stroke-linecap="butt" stroke-linejoin="round"/>
<rect x="476.1" y="627.8" width="5.6" height="5.6" fill="#3d3d3d"/>
<rect x="481.61" y="614.34" width="5.6" height="5.6" fill="#3d3d3d"/>
<rect x="487.13" y="602.42" width="5.6" height="5.6" fill="#3d3d3d"/>
<rect x="492.64" y="590.98" width="5.6" height="5.6" fill="#3d3d3d"/>
<rect x="509.19" y="555.95" width="5.6" height="5.6" fill="#3d3d3d"/>
<rect x="525.73" y="520.92" width="5.6" height="5.6" fill="#3d3d3d"/>
<rect x="542.28" y="484.94" width="5.6" height="5.6" fill="#3d3d3d"/>
<polyline points="478.9,630.6 484.41,623.93 489.93,618.09 495.44,612.01 511.99,594.5 528.53,576.98 545.08,559.23 578.16,523.48" fill="none" stroke="#ee1c24" stroke-width="1.5" stroke-linecap="butt" stroke-linejoin="round"/>
<circle cx="478.9" cy="630.6" r="3.4" fill="#f2262e"/>
<circle cx="484.41" cy="623.93" r="3.4" fill="#f2262e"/>
<circle cx="489.93" cy="618.09" r="3.4" fill="#f2262e"/>
<circle cx="495.44" cy="612.01" r="3.4" fill="#f2262e"/>
<circle cx="511.99" cy="594.5" r="3.4" fill="#f2262e"/>
<circle cx="528.53" cy="576.98" r="3.4" fill="#f2262e"/>
<circle cx="545.08" cy="559.23" r="3.4" fill="#f2262e"/>
<circle cx="578.16" cy="523.48" r="3.4" fill="#f2262e"/>
<polyline points="478.9,630.6 484.41,627.03 489.93,623.69 495.44,620.47 511.99,611.18 528.53,602.36 545.08,593.66 578.16,576.03 611.25,558.75 644.34,541 677.42,523.25 710.51,505.49 743.6,487.74" fill="none" stroke="#0f5cdc" stroke-width="1.5" stroke-linecap="butt" stroke-linejoin="round"/>
<polygon points="478.9,626.33 482.55,632.73 475.25,632.73" fill="#0f5cdc"/>
<polygon points="484.41,622.76 488.06,629.16 480.76,629.16" fill="#0f5cdc"/>
<polygon points="489.93,619.42 493.58,625.82 486.28,625.82" fill="#0f5cdc"/>
<polygon points="495.44,616.21 499.09,622.61 491.79,622.61" fill="#0f5cdc"/>
<polygon points="511.99,606.91 515.64,613.31 508.34,613.31" fill="#0f5cdc"/>
<polygon points="528.53,598.09 532.18,604.49 524.88,604.49" fill="#0f5cdc"/>
<polygon points="545.08,589.4 548.73,595.8 541.43,595.8" fill="#0f5cdc"/>
<polygon points="578.16,571.76 581.81,578.16 574.51,578.16" fill="#0f5cdc"/>
<polygon points="611.25,554.49 614.9,560.89 607.6,560.89" fill="#0f5cdc"/>
<polygon points="644.34,536.73 647.99,543.13 640.69,543.13" fill="#0f5cdc"/>
<polygon points="677.42,518.98 681.07,525.38 673.77,525.38" fill="#0f5cdc"/>
<polygon points="710.51,501.23 714.16,507.63 706.86,507.63" fill="#0f5cdc"/>
<polygon points="743.6,483.47 747.25,489.87 739.95,489.87" fill="#0f5cdc"/>
<line x1="451.8" y1="391.55" x2="451.8" y2="655.2" stroke="#3a3a3a" stroke-width="1.8"/>
<line x1="450.9" y1="654.3" x2="777.3" y2="654.3" stroke="#3a3a3a" stroke-width="1.8"/>
<line x1="450.9" y1="392.3" x2="777.3" y2="392.3" stroke="#3a3a3a" stroke-width="1.5"/>
<line x1="776.5" y1="392.3" x2="776.5" y2="654.3" stroke="#3a3a3a" stroke-width="1.6"/>
<line x1="451.33" y1="654.3" x2="451.33" y2="656.1" stroke="#3a3a3a" stroke-width="1.3"/>
<line x1="506.47" y1="654.3" x2="506.47" y2="656.1" stroke="#3a3a3a" stroke-width="1.3"/>
<line x1="561.62" y1="654.3" x2="561.62" y2="656.1" stroke="#3a3a3a" stroke-width="1.3"/>
<line x1="616.76" y1="654.3" x2="616.76" y2="656.1" stroke="#3a3a3a" stroke-width="1.3"/>
<line x1="671.91" y1="654.3" x2="671.91" y2="656.1" stroke="#3a3a3a" stroke-width="1.3"/>
<line x1="727.06" y1="654.3" x2="727.06" y2="656.1" stroke="#3a3a3a" stroke-width="1.3"/>
<line x1="478.9" y1="654.3" x2="478.9" y2="657.7" stroke="#3a3a3a" stroke-width="1.3"/>
<text x="478.9" y="676.8" font-size="17.5" text-anchor="middle" fill="#000" font-family="'Liberation Serif',serif" font-weight="bold" stroke="#000" stroke-width="0.25" stroke-linejoin="round" >0</text>
<line x1="534.05" y1="654.3" x2="534.05" y2="657.7" stroke="#3a3a3a" stroke-width="1.3"/>
<text x="534.05" y="676.8" font-size="17.5" text-anchor="middle" fill="#000" font-family="'Liberation Serif',serif" font-weight="bold" stroke="#000" stroke-width="0.25" stroke-linejoin="round" >50</text>
<line x1="589.19" y1="654.3" x2="589.19" y2="657.7" stroke="#3a3a3a" stroke-width="1.3"/>
<text x="589.19" y="676.8" font-size="17.5" text-anchor="middle" fill="#000" font-family="'Liberation Serif',serif" font-weight="bold" stroke="#000" stroke-width="0.25" stroke-linejoin="round" >100</text>
<line x1="644.34" y1="654.3" x2="644.34" y2="657.7" stroke="#3a3a3a" stroke-width="1.3"/>
<text x="644.34" y="676.8" font-size="17.5" text-anchor="middle" fill="#000" font-family="'Liberation Serif',serif" font-weight="bold" stroke="#000" stroke-width="0.25" stroke-linejoin="round" >150</text>
<line x1="699.48" y1="654.3" x2="699.48" y2="657.7" stroke="#3a3a3a" stroke-width="1.3"/>
<text x="699.48" y="676.8" font-size="17.5" text-anchor="middle" fill="#000" font-family="'Liberation Serif',serif" font-weight="bold" stroke="#000" stroke-width="0.25" stroke-linejoin="round" >200</text>
<line x1="754.63" y1="654.3" x2="754.63" y2="657.7" stroke="#3a3a3a" stroke-width="1.3"/>
<text x="754.63" y="676.8" font-size="17.5" text-anchor="middle" fill="#000" font-family="'Liberation Serif',serif" font-weight="bold" stroke="#000" stroke-width="0.25" stroke-linejoin="round" >250</text>
<line x1="449.6" y1="600.81" x2="451.8" y2="600.81" stroke="#3a3a3a" stroke-width="1.3"/>
<line x1="449.6" y1="541.24" x2="451.8" y2="541.24" stroke="#3a3a3a" stroke-width="1.3"/>
<line x1="449.6" y1="481.66" x2="451.8" y2="481.66" stroke="#3a3a3a" stroke-width="1.3"/>
<line x1="449.6" y1="422.09" x2="451.8" y2="422.09" stroke="#3a3a3a" stroke-width="1.3"/>
<line x1="447.5" y1="630.6" x2="451.8" y2="630.6" stroke="#3a3a3a" stroke-width="1.3"/>
<text x="441.6" y="635.9" font-size="16.7" text-anchor="end" fill="#000" font-family="'Liberation Serif',serif" font-weight="bold" stroke="#000" stroke-width="0.25" stroke-linejoin="round" >0.00</text>
<line x1="447.5" y1="571.02" x2="451.8" y2="571.02" stroke="#3a3a3a" stroke-width="1.3"/>
<text x="441.6" y="576.32" font-size="16.7" text-anchor="end" fill="#000" font-family="'Liberation Serif',serif" font-weight="bold" stroke="#000" stroke-width="0.25" stroke-linejoin="round" >0.05</text>
<line x1="447.5" y1="511.45" x2="451.8" y2="511.45" stroke="#3a3a3a" stroke-width="1.3"/>
<text x="441.6" y="516.75" font-size="16.7" text-anchor="end" fill="#000" font-family="'Liberation Serif',serif" font-weight="bold" stroke="#000" stroke-width="0.25" stroke-linejoin="round" >0.10</text>
<line x1="447.5" y1="451.88" x2="451.8" y2="451.88" stroke="#3a3a3a" stroke-width="1.3"/>
<text x="441.6" y="457.18" font-size="16.7" text-anchor="end" fill="#000" font-family="'Liberation Serif',serif" font-weight="bold" stroke="#000" stroke-width="0.25" stroke-linejoin="round" >0.15</text>
<line x1="447.5" y1="392.3" x2="451.8" y2="392.3" stroke="#3a3a3a" stroke-width="1.3"/>
<text x="441.6" y="397.6" font-size="16.7" text-anchor="end" fill="#000" font-family="'Liberation Serif',serif" font-weight="bold" stroke="#000" stroke-width="0.25" stroke-linejoin="round" >0.20</text>
<text x="741.9" y="411" font-size="16.6" text-anchor="start" fill="#000" font-family="'Liberation Serif',serif" font-weight="bold" stroke="#000" stroke-width="0.25" stroke-linejoin="round" >MG</text>
<text x="555.9" y="642.2" font-size="14" text-anchor="start" fill="#000" font-family="'Liberation Serif',serif" font-weight="bold" stroke="#000" stroke-width="0.25" stroke-linejoin="round" >Pseudo-second-order</text>
<rect x="478.1" y="409.8" width="5.6" height="5.6" fill="#3d3d3d"/>
<circle cx="480.9" cy="431.3" r="3.5" fill="#f2262e"/>
<polygon points="480.9,446 484.8,452.8 477,452.8" fill="#0f5cdc"/>
<text x="501.9" y="417.3" font-size="14.7" text-anchor="start" fill="#000" font-family="'Liberation Serif',serif" font-weight="bold" stroke="#000" stroke-width="0.25" stroke-linejoin="round" >100mg/L</text>
<text x="501.9" y="435.8" font-size="14.7" text-anchor="start" fill="#000" font-family="'Liberation Serif',serif" font-weight="bold" stroke="#000" stroke-width="0.25" stroke-linejoin="round" >200mg/L</text>
<text x="501.9" y="454.3" font-size="14.7" text-anchor="start" fill="#000" font-family="'Liberation Serif',serif" font-weight="bold" stroke="#000" stroke-width="0.25" stroke-linejoin="round" >400mg/L</text>
<text transform="translate(402.7 523.2) rotate(-90)" font-size="23" text-anchor="middle" fill="#000" font-family="'Liberation Serif',serif" font-weight="bold" stroke="#000" stroke-width="0.25" stroke-linejoin="round">t/Q<tspan font-size="15.18" dy="5.75">t</tspan><tspan dy="-5.75">&#8203;</tspan></text>
<text x="565.3" y="698" font-size="23.5" stroke-width="0.25" font-family="'Liberation Serif','Noto Serif CJK SC',serif" font-weight="bold" fill="#000" stroke="#000">t</text>
<text transform="translate(566 696.6) scale(1.48 1)" font-size="18" stroke-width="0.5" font-family="'Liberation Serif','Noto Serif CJK SC',serif" font-weight="bold" fill="#000" stroke="#000">（</text>
<text x="595.6" y="698" font-size="23.5" stroke-width="0.25" textLength="34.6" lengthAdjust="spacingAndGlyphs" font-family="'Liberation Serif','Noto Serif CJK SC',serif" font-weight="bold" fill="#000" stroke="#000">min</text>
<text transform="translate(632.9 696.6) scale(1.48 1)" font-size="18" stroke-width="0.5" font-family="'Liberation Serif','Noto Serif CJK SC',serif" font-weight="bold" fill="#000" stroke="#000">）</text>
<text x="397.2" y="375.6" font-size="44.5" text-anchor="start" fill="#000" font-family="'Liberation Serif',serif" font-weight="bold" stroke="#000" stroke-width="0.25" stroke-linejoin="round" >e</text>
</g>
<g id="pf">
<polyline points="874.03,608.48 906.82,603" fill="none" stroke="#4d4d4d" stroke-width="1.4" stroke-linecap="butt" stroke-linejoin="round"/>
<polyline points="938.96,601.49 1019.29,601.06" fill="none" stroke="#4d4d4d" stroke-width="1.4" stroke-linecap="butt" stroke-linejoin="round"/>
<rect x="871.43" y="605.88" width="5.2" height="5.2" fill="#3d3d3d"/>
<rect x="889.99" y="602.44" width="5.2" height="5.2" fill="#3d3d3d"/>
<rect x="904.22" y="600.4" width="5.2" height="5.2" fill="#3d3d3d"/>
<rect x="936.36" y="598.89" width="5.2" height="5.2" fill="#3d3d3d"/>
<rect x="961.02" y="598.46" width="5.2" height="5.2" fill="#3d3d3d"/>
<rect x="981.82" y="598.46" width="5.2" height="5.2" fill="#3d3d3d"/>
<rect x="1016.69" y="598.46" width="5.2" height="5.2" fill="#3d3d3d"/>
<polyline points="874.03,557.83 906.82,552.34" fill="none" stroke="#ee1c24" stroke-width="1.4" stroke-linecap="butt" stroke-linejoin="round"/>
<polyline points="938.96,549.22 984.42,547.18" fill="none" stroke="#ee1c24" stroke-width="1.4" stroke-linecap="butt" stroke-linejoin="round"/>
<polyline points="1019.29,547.18 1098.02,547.07" fill="none" stroke="#ee1c24" stroke-width="1.4" stroke-linecap="butt" stroke-linejoin="round"/>
<circle cx="874.03" cy="557.83" r="3.2" fill="#f2262e"/>
<circle cx="892.59" cy="554.71" r="3.2" fill="#f2262e"/>
<circle cx="906.82" cy="552.34" r="3.2" fill="#f2262e"/>
<circle cx="938.96" cy="549.22" r="3.2" fill="#f2262e"/>
<circle cx="963.62" cy="547.5" r="3.2" fill="#f2262e"/>
<circle cx="984.42" cy="547.18" r="3.2" fill="#f2262e"/>
<circle cx="1019.29" cy="547.18" r="3.2" fill="#f2262e"/>
<circle cx="1048.69" cy="547.07" r="3.2" fill="#f2262e"/>
<circle cx="1074.6" cy="547.07" r="3.2" fill="#f2262e"/>
<circle cx="1098.02" cy="547.07" r="3.2" fill="#f2262e"/>
<polyline points="874.03,493.63 906.82,471.36" fill="none" stroke="#0f5cdc" stroke-width="1.5" stroke-linecap="butt" stroke-linejoin="round"/>
<polyline points="938.96,459.21 984.42,445.77" fill="none" stroke="#0f5cdc" stroke-width="1.5" stroke-linecap="butt" stroke-linejoin="round"/>
<polyline points="1019.29,443.4 1139.6,438.99" fill="none" stroke="#0f5cdc" stroke-width="1.5" stroke-linecap="butt" stroke-linejoin="round"/>
<polygon points="874.03,489.09 877.93,495.89 870.13,495.89" fill="#0f5cdc"/>
<polygon points="892.59,474.04 896.49,480.84 888.69,480.84" fill="#0f5cdc"/>
<polygon points="906.82,466.83 910.72,473.63 902.92,473.63" fill="#0f5cdc"/>
<polygon points="938.96,454.68 942.86,461.48 935.06,461.48" fill="#0f5cdc"/>
<polygon points="963.62,444.78 967.52,451.58 959.72,451.58" fill="#0f5cdc"/>
<polygon points="984.42,441.24 988.32,448.04 980.52,448.04" fill="#0f5cdc"/>
<polygon points="1019.29,438.87 1023.19,445.67 1015.39,445.67" fill="#0f5cdc"/>
<polygon points="1048.69,435.64 1052.59,442.44 1044.79,442.44" fill="#0f5cdc"/>
<polygon points="1074.6,435.21 1078.5,442.01 1070.7,442.01" fill="#0f5cdc"/>
<polygon points="1098.02,435 1101.92,441.8 1094.12,441.8" fill="#0f5cdc"/>
<polygon points="1119.55,434.78 1123.45,441.58 1115.65,441.58" fill="#0f5cdc"/>
<polygon points="1139.6,434.46 1143.5,441.26 1135.7,441.26" fill="#0f5cdc"/>
<line x1="849.1" y1="395.6" x2="849.1" y2="655.2" stroke="#444" stroke-width="1.8"/>
<line x1="848.2" y1="654.4" x2="1170.6" y2="654.4" stroke="#2a2a2a" stroke-width="1.6"/>
<line x1="848.2" y1="396.3" x2="1170.6" y2="396.3" stroke="#2a2a2a" stroke-width="1.4"/>
<line x1="1169.8" y1="396.3" x2="1169.8" y2="654.4" stroke="#2a2a2a" stroke-width="1.6"/>
<line x1="849.27" y1="654.4" x2="849.27" y2="656.2" stroke="#2a2a2a" stroke-width="1.3"/>
<line x1="889.33" y1="654.4" x2="889.33" y2="656.2" stroke="#2a2a2a" stroke-width="1.3"/>
<line x1="929.4" y1="654.4" x2="929.4" y2="656.2" stroke="#2a2a2a" stroke-width="1.3"/>
<line x1="969.47" y1="654.4" x2="969.47" y2="656.2" stroke="#2a2a2a" stroke-width="1.3"/>
<line x1="1009.54" y1="654.4" x2="1009.54" y2="656.2" stroke="#2a2a2a" stroke-width="1.3"/>
<line x1="1049.61" y1="654.4" x2="1049.61" y2="656.2" stroke="#2a2a2a" stroke-width="1.3"/>
<line x1="1089.68" y1="654.4" x2="1089.68" y2="656.2" stroke="#2a2a2a" stroke-width="1.3"/>
<line x1="1129.74" y1="654.4" x2="1129.74" y2="656.2" stroke="#2a2a2a" stroke-width="1.3"/>
<line x1="1169.81" y1="654.4" x2="1169.81" y2="656.2" stroke="#2a2a2a" stroke-width="1.3"/>
<line x1="869.3" y1="654.4" x2="869.3" y2="657.8" stroke="#2a2a2a" stroke-width="1.3"/>
<text x="869.3" y="673.6" font-size="16.5" text-anchor="middle" fill="#000" font-family="'Liberation Serif',serif" font-weight="bold" stroke="#000" stroke-width="0.25" stroke-linejoin="round" >2</text>
<line x1="909.37" y1="654.4" x2="909.37" y2="657.8" stroke="#2a2a2a" stroke-width="1.3"/>
<text x="909.37" y="673.6" font-size="16.5" text-anchor="middle" fill="#000" font-family="'Liberation Serif',serif" font-weight="bold" stroke="#000" stroke-width="0.25" stroke-linejoin="round" >4</text>
<line x1="949.44" y1="654.4" x2="949.44" y2="657.8" stroke="#2a2a2a" stroke-width="1.3"/>
<text x="949.44" y="673.6" font-size="16.5" text-anchor="middle" fill="#000" font-family="'Liberation Serif',serif" font-weight="bold" stroke="#000" stroke-width="0.25" stroke-linejoin="round" >6</text>
<line x1="989.5" y1="654.4" x2="989.5" y2="657.8" stroke="#2a2a2a" stroke-width="1.3"/>
<text x="989.5" y="673.6" font-size="16.5" text-anchor="middle" fill="#000" font-family="'Liberation Serif',serif" font-weight="bold" stroke="#000" stroke-width="0.25" stroke-linejoin="round" >8</text>
<line x1="1029.57" y1="654.4" x2="1029.57" y2="657.8" stroke="#2a2a2a" stroke-width="1.3"/>
<text x="1029.57" y="673.6" font-size="16.5" text-anchor="middle" fill="#000" font-family="'Liberation Serif',serif" font-weight="bold" stroke="#000" stroke-width="0.25" stroke-linejoin="round" >10</text>
<line x1="1069.64" y1="654.4" x2="1069.64" y2="657.8" stroke="#2a2a2a" stroke-width="1.3"/>
<text x="1069.64" y="673.6" font-size="16.5" text-anchor="middle" fill="#000" font-family="'Liberation Serif',serif" font-weight="bold" stroke="#000" stroke-width="0.25" stroke-linejoin="round" >12</text>
<line x1="1109.71" y1="654.4" x2="1109.71" y2="657.8" stroke="#2a2a2a" stroke-width="1.3"/>
<text x="1109.71" y="673.6" font-size="16.5" text-anchor="middle" fill="#000" font-family="'Liberation Serif',serif" font-weight="bold" stroke="#000" stroke-width="0.25" stroke-linejoin="round" >14</text>
<line x1="1149.78" y1="654.4" x2="1149.78" y2="657.8" stroke="#2a2a2a" stroke-width="1.3"/>
<text x="1149.78" y="673.6" font-size="16.5" text-anchor="middle" fill="#000" font-family="'Liberation Serif',serif" font-weight="bold" stroke="#000" stroke-width="0.25" stroke-linejoin="round" >16</text>
<line x1="847.3" y1="632.89" x2="849.1" y2="632.89" stroke="#444" stroke-width="1.3"/>
<line x1="847.3" y1="589.88" x2="849.1" y2="589.88" stroke="#444" stroke-width="1.3"/>
<line x1="847.3" y1="546.86" x2="849.1" y2="546.86" stroke="#444" stroke-width="1.3"/>
<line x1="847.3" y1="503.84" x2="849.1" y2="503.84" stroke="#444" stroke-width="1.3"/>
<line x1="847.3" y1="460.83" x2="849.1" y2="460.83" stroke="#444" stroke-width="1.3"/>
<line x1="847.3" y1="417.81" x2="849.1" y2="417.81" stroke="#444" stroke-width="1.3"/>
<line x1="845.7" y1="654.4" x2="849.1" y2="654.4" stroke="#444" stroke-width="1.3"/>
<text x="843.3" y="659.7" font-size="16.5" text-anchor="end" fill="#000" font-family="'Liberation Serif',serif" font-weight="bold" stroke="#000" stroke-width="0.25" stroke-linejoin="round" >0</text>
<line x1="845.7" y1="611.38" x2="849.1" y2="611.38" stroke="#444" stroke-width="1.3"/>
<text x="843.3" y="616.68" font-size="16.5" text-anchor="end" fill="#000" font-family="'Liberation Serif',serif" font-weight="bold" stroke="#000" stroke-width="0.25" stroke-linejoin="round" >400</text>
<line x1="845.7" y1="568.37" x2="849.1" y2="568.37" stroke="#444" stroke-width="1.3"/>
<text x="843.3" y="573.67" font-size="16.5" text-anchor="end" fill="#000" font-family="'Liberation Serif',serif" font-weight="bold" stroke="#000" stroke-width="0.25" stroke-linejoin="round" >800</text>
<line x1="845.7" y1="525.35" x2="849.1" y2="525.35" stroke="#444" stroke-width="1.3"/>
<text x="843.3" y="530.65" font-size="16.5" text-anchor="end" fill="#000" font-family="'Liberation Serif',serif" font-weight="bold" stroke="#000" stroke-width="0.25" stroke-linejoin="round" >1200</text>
<line x1="845.7" y1="482.33" x2="849.1" y2="482.33" stroke="#444" stroke-width="1.3"/>
<text x="843.3" y="487.63" font-size="16.5" text-anchor="end" fill="#000" font-family="'Liberation Serif',serif" font-weight="bold" stroke="#000" stroke-width="0.25" stroke-linejoin="round" >1600</text>
<line x1="845.7" y1="439.32" x2="849.1" y2="439.32" stroke="#444" stroke-width="1.3"/>
<text x="843.3" y="444.62" font-size="16.5" text-anchor="end" fill="#000" font-family="'Liberation Serif',serif" font-weight="bold" stroke="#000" stroke-width="0.25" stroke-linejoin="round" >2000</text>
<line x1="845.7" y1="396.3" x2="849.1" y2="396.3" stroke="#444" stroke-width="1.3"/>
<text x="843.3" y="401.6" font-size="16.5" text-anchor="end" fill="#000" font-family="'Liberation Serif',serif" font-weight="bold" stroke="#000" stroke-width="0.25" stroke-linejoin="round" >2400</text>
<text x="1126.3" y="419.2" font-size="15.4" text-anchor="start" fill="#000" font-family="'Liberation Serif',serif" font-weight="bold" stroke="#000" stroke-width="0.25" stroke-linejoin="round" >MG</text>
<text x="1035.3" y="639.7" font-size="13.3" text-anchor="start" fill="#000" font-family="'Liberation Serif',serif" font-weight="bold" stroke="#000" stroke-width="0.25" stroke-linejoin="round" >Intraparticle diffusion</text>
<rect x="871.64" y="404.14" width="5.32" height="5.32" fill="#3d3d3d"/>
<circle cx="874.3" cy="423.7" r="3.32" fill="#f2262e"/>
<polygon points="874.3,436.67 878,443.13 870.59,443.13" fill="#0f5cdc"/>
<text x="892.9" y="411.4" font-size="13.4" text-anchor="start" fill="#000" font-family="'Liberation Serif',serif" font-weight="bold" stroke="#000" stroke-width="0.25" stroke-linejoin="round" >100mg/L</text>
<text x="892.9" y="428.1" font-size="13.4" text-anchor="start" fill="#000" font-family="'Liberation Serif',serif" font-weight="bold" stroke="#000" stroke-width="0.25" stroke-linejoin="round" >200mg/L</text>
<text x="892.9" y="444.8" font-size="13.4" text-anchor="start" fill="#000" font-family="'Liberation Serif',serif" font-weight="bold" stroke="#000" stroke-width="0.25" stroke-linejoin="round" >400mg/L</text>
<text transform="translate(803.9 530.1) rotate(-90)" font-size="21.8" text-anchor="middle" fill="#000" font-family="'Liberation Serif',serif" font-weight="bold" stroke="#000" stroke-width="0.25" stroke-linejoin="round">Q<tspan font-size="14.39" dy="5.45">t</tspan><tspan dy="-5.45">&#8203;</tspan> (mg/g)</text>
<text x="959" y="694.9" font-size="22" text-anchor="start" fill="#000" font-family="'Liberation Serif',serif" font-weight="bold" stroke="#000" stroke-width="0.25" stroke-linejoin="round" >t<tspan font-size="13.64" dy="-9.02">1/2</tspan><tspan dy="9.02">&#8203;</tspan> (min<tspan font-size="13.64" dy="-9.02">1/2</tspan><tspan dy="9.02">&#8203;</tspan>)</text>
<text x="801.2" y="381.2" font-size="44.5" text-anchor="start" fill="#000" font-family="'Liberation Serif',serif" font-weight="bold" stroke="#000" stroke-width="0.25" stroke-linejoin="round" >f</text>
</g>
</svg>
</body>
</html>
